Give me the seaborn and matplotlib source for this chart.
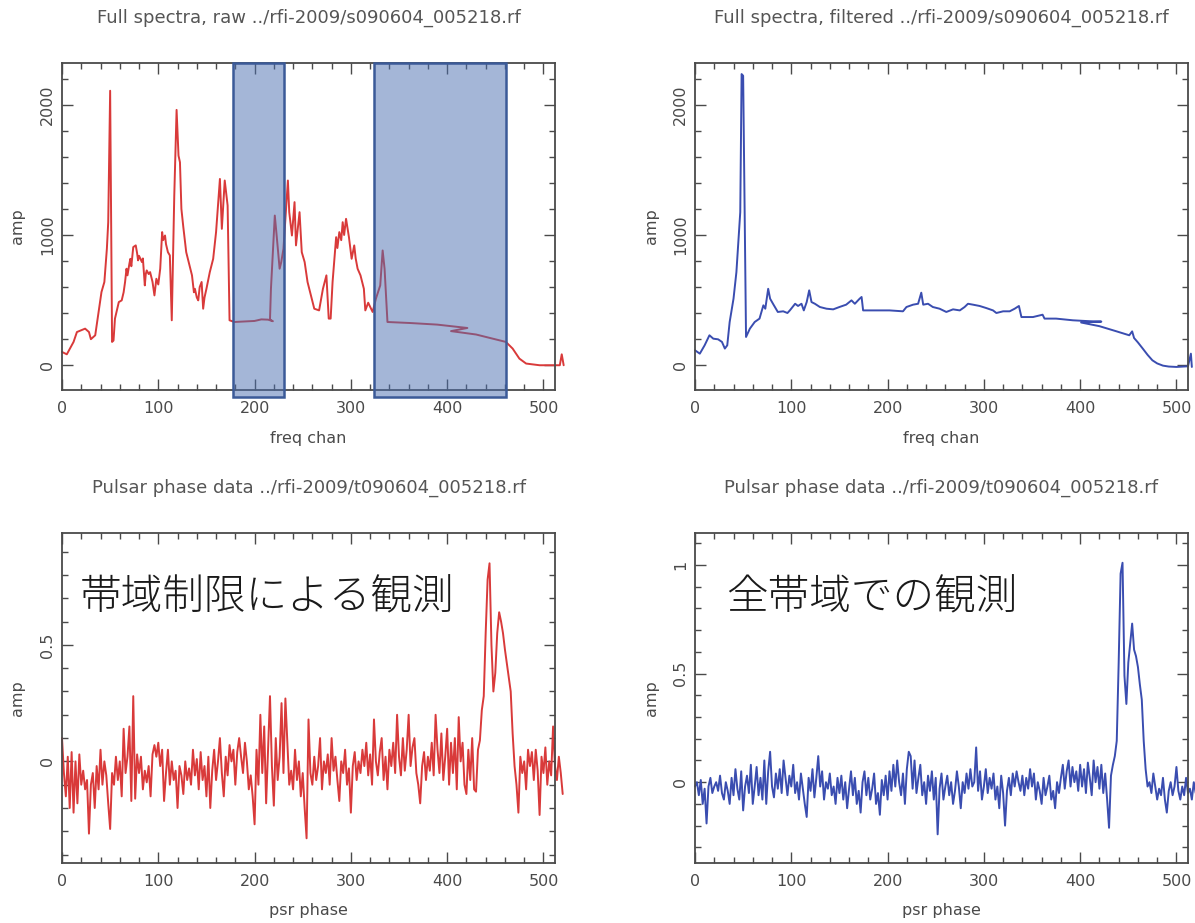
import numpy as np
import pandas as pd
import matplotlib
matplotlib.use("Agg")
import matplotlib.pyplot as plt
from matplotlib.patches import Rectangle
from matplotlib.ticker import MultipleLocator, FuncFormatter
import seaborn as sns

sns.set_style("ticks")
plt.rcParams["font.family"] = ["DejaVu Sans", "Noto Sans CJK JP"]

# ---- full spectra, raw (channel, amplitude) ----
raw_chan = [0, 5, 12, 15.5, 24, 28, 30, 34.5, 38, 41, 44, 46.6, 48, 50, 52, 53.5, 55, 59, 62,
            64, 65.5, 67, 68, 70, 71, 72, 74, 76.6, 78, 79, 80, 83, 84, 86, 87, 88, 90, 91.5, 94,
            96, 97, 98, 100, 102, 104, 105, 107, 108, 110, 112, 114,
            116.6, 119, 121, 122.5, 124, 126, 129, 135, 137, 138, 140, 141.5, 143, 145, 146.6,
            148, 150, 153.5, 157, 160, 164, 166, 169, 172, 174, 179, 200, 207, 214, 219, 216,
            217, 221, 222.6, 226, 227.7, 230, 234.6, 236, 238.8, 241.5, 243, 246.7, 248, 249,
            252, 255, 262, 267, 271, 274.6, 277, 279, 281, 284.7, 286, 288, 290, 291.5, 293, 295,
            298, 300.8, 303.5, 305, 307, 310, 313.5, 315, 318, 321, 322.6, 326, 330.5, 333, 335,
            338, 362, 389.6, 421, 404, 430, 461, 468, 475, 482, 496, 517, 519, 521]
raw_amp = [102, 84, 179, 255, 281, 255, 200, 230, 409, 562, 639, 894, 1098, 2107, 179, 190,
           358, 485, 498, 560, 639, 741, 690, 780, 817, 760, 907, 920, 860, 805, 840, 792, 820,
           613, 700, 728, 700, 715, 640, 536, 600, 664, 620, 741, 1022, 960, 996, 930, 868, 843,
           345, 1303, 1960, 1609, 1558, 1200, 1060, 868, 690, 560, 587, 520, 498, 600, 639, 434,
           520, 587, 715, 817, 1022, 1430, 1047, 1418, 1226, 345, 332, 340, 352, 350, 338, 350,
           587, 1149, 1022, 741, 792, 894, 1418, 1175, 996, 1252, 920, 1175, 1000, 868, 792,
           639, 434, 421, 587, 690, 358, 358, 639, 983, 900, 1022, 960, 1098, 1000, 1124, 983,
           817, 920, 820, 741, 690, 587, 421, 480, 434, 409, 511, 613, 881, 741, 332, 324, 312,
           286, 262, 236, 179, 128, 51, 13, 0, 0, 84, 0]

# ---- full spectra, filtered ----
filt_chan = [0, 5, 10, 15, 19, 24, 28, 31, 33.5, 36, 40, 43, 47, 48.4, 50, 53, 57, 62, 67, 71,
             73, 76, 78, 81, 86, 91.6, 96, 98.5, 104, 107, 110.6, 113, 116, 118.6, 121, 124.5,
             129.7, 136.6, 143.5, 150, 157, 162.5, 166, 171, 173, 174.6, 188, 202, 216, 219.6,
             226.5, 231.7, 235, 237, 242, 247, 254, 261, 268, 275, 280, 283.5, 288.7, 295.6,
             302.5, 309.5, 313, 320, 326.8, 332, 336.4, 339, 351, 361, 363, 375, 392.5, 410, 422,
             401, 420, 437, 451, 454, 456, 460, 465, 470, 475, 480, 486, 492, 500, 512, 515, 516]
filt_amp = [115, 89, 153, 230, 204, 199, 179, 128, 153, 332, 511, 715, 1175, 2235, 2222, 217,
            281, 332, 358, 460, 434, 587, 511, 472, 409, 414, 401, 421, 472, 455, 472, 421, 485,
            575, 485, 472, 447, 434, 429, 447, 465, 498, 472, 511, 524, 421, 421, 421, 414, 447,
            465, 472, 557, 465, 472, 447, 434, 409, 429, 421, 447, 472, 465, 455, 439, 421, 401,
            414, 414, 434, 455, 370, 370, 388, 358, 358, 345, 338, 335, 328, 300, 262, 230, 260,
            209, 175, 128, 80, 38, 14, -3, -10, -13, -8, 89, -13]

# ---- pulsar phase profiles ----
phase = np.arange(0, 522, 2)
profile_band = [
    0.10, -0.05, -0.15, 0.02, -0.20, 0.04, -0.22, 0.00, -0.18, 0.03, -0.10, -0.04, -0.12, -0.08,
    -0.31, -0.10, -0.05, -0.20, -0.02, -0.12, 0.05, -0.10, 0.00, -0.06, -0.18, -0.29, -0.05, -0.10,
    0.02, -0.08, 0.00, -0.15, 0.14, -0.05, 0.02, 0.15, -0.17, 0.28, -0.16, 0.03, -0.05, 0.02,
    -0.12, -0.04, -0.09, -0.02, -0.15, 0.03, 0.07, 0.02, 0.08, -0.02, 0.05, -0.17, -0.05, 0.05,
    -0.10, 0.00, -0.08, -0.04, -0.20, -0.02, -0.06, -0.14, 0.00, -0.08, -0.03, -0.10, 0.05, -0.06,
    0.01, -0.12, 0.04, -0.08, -0.02, -0.15, 0.02, -0.20, -0.04, 0.05, -0.08, 0.00, 0.10, -0.05,
    -0.15, 0.02, -0.06, 0.07, 0.00, 0.05, -0.10, 0.04, 0.10, 0.02, -0.05, 0.08, 0.00, -0.12,
    -0.06, -0.15, -0.27, 0.05, -0.10, 0.20, -0.05, 0.15, -0.18, 0.05, 0.28, -0.02, -0.19, 0.10,
    -0.08, 0.02, 0.25, -0.05, 0.27, 0.08, -0.10, -0.04, -0.12, 0.05, -0.08, 0.00, -0.15, -0.05,
    -0.20, -0.33, 0.18, -0.05, -0.10, 0.02, -0.08, -0.02, 0.10, -0.12, 0.00, -0.05, 0.03, -0.10,
    0.10, -0.04, 0.02, -0.08, -0.17, 0.00, -0.05, 0.05, -0.10, -0.03, -0.22, -0.02, 0.04, -0.08,
    0.00, -0.05, 0.05, -0.02, 0.08, -0.06, 0.03, -0.10, 0.18, 0.00, -0.06, 0.04, 0.10, -0.08,
    0.02, -0.12, 0.05, -0.02, 0.08, -0.05, 0.20, 0.02, -0.06, 0.10, -0.04, 0.05, 0.20, -0.02,
    0.06, 0.10, -0.05, -0.10, -0.18, -0.02, 0.04, -0.08, 0.02, -0.04, 0.08, -0.06, 0.20, 0.05,
    -0.05, 0.12, -0.08, 0.02, 0.14, -0.10, 0.08, -0.05, 0.10, -0.12, 0.19, 0.00, 0.08, -0.10,
    -0.14, 0.05, -0.08, 0.10, -0.12, -0.13, 0.05, 0.09, 0.22, 0.28, 0.55, 0.78, 0.85, 0.50,
    0.30, 0.38, 0.55, 0.64, 0.60, 0.55, 0.48, 0.42, 0.36, 0.30, 0.12, -0.02, -0.10, -0.22,
    0.02, -0.05, 0.00, -0.12, 0.05, -0.02, 0.04, -0.08, 0.05, -0.04, -0.23, 0.02, -0.05, 0.06,
    -0.10, 0.00, -0.06, 0.15, -0.02, -0.08, 0.02, -0.05, -0.14]
profile_full = [
    -0.02, 0.00, -0.06, 0.01, -0.10, -0.03, -0.19, -0.02, 0.02, -0.05, -0.02, 0.00, -0.04, 0.03,
    -0.05, -0.08, 0.00, -0.04, -0.10, 0.02, -0.06, 0.06, -0.03, -0.08, 0.05, -0.13, -0.02, 0.03,
    -0.05, 0.08, -0.10, -0.02, 0.07, -0.06, 0.02, -0.08, 0.10, -0.10, 0.05, 0.14, -0.02, -0.07,
    0.04, -0.03, 0.06, -0.05, 0.10, 0.02, -0.06, 0.03, -0.02, 0.08, -0.05, 0.00, -0.08, 0.04,
    -0.03, -0.10, -0.16, 0.02, -0.04, 0.06, -0.07, 0.02, 0.12, -0.02, 0.05, -0.08, 0.00, -0.03,
    0.04, -0.06, -0.02, -0.10, 0.02, -0.05, 0.03, -0.08, 0.00, -0.12, -0.03, 0.05, -0.06, 0.02,
    -0.10, -0.04, -0.14, 0.00, 0.05, -0.06, 0.02, -0.08, -0.03, 0.04, -0.10, -0.05, -0.15, 0.01,
    -0.06, 0.03, -0.08, 0.05, -0.04, 0.08, -0.02, 0.10, 0.00, -0.06, 0.04, -0.10, 0.06, 0.14,
    0.12, -0.03, 0.10, -0.05, 0.02, 0.08, -0.06, 0.00, -0.10, 0.03, -0.04, 0.05, -0.08, 0.02,
    -0.24, -0.03, 0.04, -0.08, -0.02, 0.03, -0.06, 0.00, -0.10, -0.04, 0.05, -0.02, -0.12, 0.00,
    -0.05, 0.04, -0.03, 0.06, -0.02, 0.00, 0.16, -0.04, 0.05, -0.08, -0.02, 0.06, -0.05, 0.02,
    -0.03, 0.04, -0.08, -0.02, -0.12, 0.03, -0.05, -0.20, -0.04, 0.02, -0.06, 0.04, -0.02, 0.05,
    0.00, -0.04, 0.03, -0.06, 0.02, -0.03, 0.06, -0.02, 0.04, -0.08, 0.00, -0.04, -0.10, 0.02,
    -0.06, -0.02, 0.03, -0.08, -0.04, -0.12, 0.00, -0.05, 0.02, 0.08, -0.03, 0.05, 0.10, -0.02,
    0.07, 0.00, 0.05, -0.04, 0.08, -0.02, 0.06, -0.05, 0.09, 0.02, -0.06, 0.10, 0.00, 0.07,
    -0.03, 0.08, -0.05, 0.04, -0.08, -0.21, 0.03, 0.08, 0.12, 0.19, 0.55, 0.96, 1.01, 0.49,
    0.36, 0.55, 0.64, 0.73, 0.61, 0.58, 0.53, 0.45, 0.38, 0.19, 0.06, -0.02, 0.00, -0.05,
    0.04, -0.02, -0.08, -0.03, -0.06, 0.02, -0.08, -0.14, -0.04, 0.00, -0.06, -0.02, 0.07, -0.04,
    -0.08, -0.02, -0.06, 0.02, -0.05, -0.03, -0.08, 0.00, -0.05]

# flagged channel ranges in the raw spectrum
flag_start = [178, 324]
flag_stop = [231, 461]

titles = ["Full spectra, raw ../rfi-2009/s090604_005218.rf",
          "Full spectra, filtered ../rfi-2009/s090604_005218.rf",
          "Pulsar phase data ../rfi-2009/t090604_005218.rf",
          "Pulsar phase data ../rfi-2009/t090604_005218.rf"]
xlabels = ["freq chan", "freq chan", "psr phase", "psr phase"]
notes = ["帯域制限による観測", "全帯域での観測"]

RED = "#d93a3a"
BLUE = "#3a4db0"
INK = "#4a4a4a"

W, H = 1195, 923
fig = plt.figure(figsize=(W / 100, H / 100), dpi=100)


def box(left, top, right, bottom):
    return [left / W, 1 - bottom / H, (right - left) / W, (bottom - top) / H]


axes = [fig.add_axes(box(62, 63, 555, 390)),
        fig.add_axes(box(695, 63, 1188, 390)),
        fig.add_axes(box(62, 533, 555, 863)),
        fig.add_axes(box(695, 533, 1188, 863))]


def style(ax, ymajor, yminor, fmt):
    ax.set_xlim(0, 512)
    ax.xaxis.set_major_locator(MultipleLocator(100))
    ax.xaxis.set_minor_locator(MultipleLocator(20))
    ax.yaxis.set_major_locator(MultipleLocator(ymajor))
    ax.yaxis.set_minor_locator(MultipleLocator(yminor))
    ax.yaxis.set_major_formatter(fmt)
    ax.tick_params(which="both", direction="in", top=True, right=True, colors=INK,
                   labelcolor=INK, labelsize=11.5, width=1.0)
    ax.tick_params(which="major", length=8)
    ax.tick_params(which="minor", length=4)
    ax.tick_params(axis="x", pad=8)
    ax.tick_params(axis="y", pad=5)
    for lab in ax.get_yticklabels():
        lab.set_rotation(90)
        lab.set_va("center")
    for s in ax.spines.values():
        s.set_color(INK)
        s.set_linewidth(1.3)
    ax.set_xlabel("")
    ax.set_ylabel("")


def draw(ax, x, y, color):
    sns.lineplot(x=x, y=y, ax=ax, sort=False, estimator=None, color=color, linewidth=1.4)
    for ln in ax.get_lines():
        ln.set_clip_on(False)


fmt_int = FuncFormatter(lambda v, p: f"{v:.0f}")
fmt_half = FuncFormatter(lambda v, p: "0" if abs(v) < 1e-9
                         else (f"{v:.0f}" if abs(v - round(v)) < 1e-9 else f"{v:.1f}"))

# raw spectrum with flagged ranges
ax = axes[0]
draw(ax, raw_chan, raw_amp, RED)
ax.set_ylim(-190, 2320)
for a, b in zip(flag_start, flag_stop):
    ax.add_patch(Rectangle((a, -243), b - a, 2320 + 243, facecolor="#4a6eb0", alpha=0.5,
                           edgecolor="none", zorder=3, clip_on=False))
    ax.add_patch(Rectangle((a, -243), b - a, 2320 + 243, facecolor="none",
                           edgecolor="#3b5a98", linewidth=1.8, zorder=4, clip_on=False))
style(ax, 1000, 200, fmt_int)

ax = axes[1]
draw(ax, filt_chan, filt_amp, BLUE)
ax.set_ylim(-190, 2320)
style(ax, 1000, 200, fmt_int)

ax = axes[2]
draw(ax, phase, profile_band, RED)
ax.set_ylim(-0.436, 0.98)
style(ax, 0.5, 0.1, fmt_half)

ax = axes[3]
draw(ax, phase, profile_full, BLUE)
ax.set_ylim(-0.372, 1.147)
style(ax, 0.5, 0.1, fmt_half)

# panel titles and axis labels
for ax, t, xl in zip(axes, titles, xlabels):
    pos = ax.get_position()
    cx = pos.x0 + pos.width / 2
    fig.text(cx, pos.y1 + 45 / H, t, ha="center", va="center", fontsize=13, color="#555555")
    fig.text(pos.x0 - 44 / W, pos.y0 + pos.height / 2, "amp", rotation=90, ha="center",
             va="center", fontsize=11.5, color=INK)
    fig.text(cx, pos.y0 - 48 / H, xl, ha="center", va="center", fontsize=11.5, color=INK)

# annotations on the pulse profiles
for x0, note in zip([80, 726], notes):
    fig.text(x0 / W, 1 - 598 / H, note, ha="left", va="center", fontsize=30,
             family=["Noto Sans CJK JP", "DejaVu Sans"], fontweight="light", color="#1a1a1a")

fig.savefig("out.png", dpi=100)
